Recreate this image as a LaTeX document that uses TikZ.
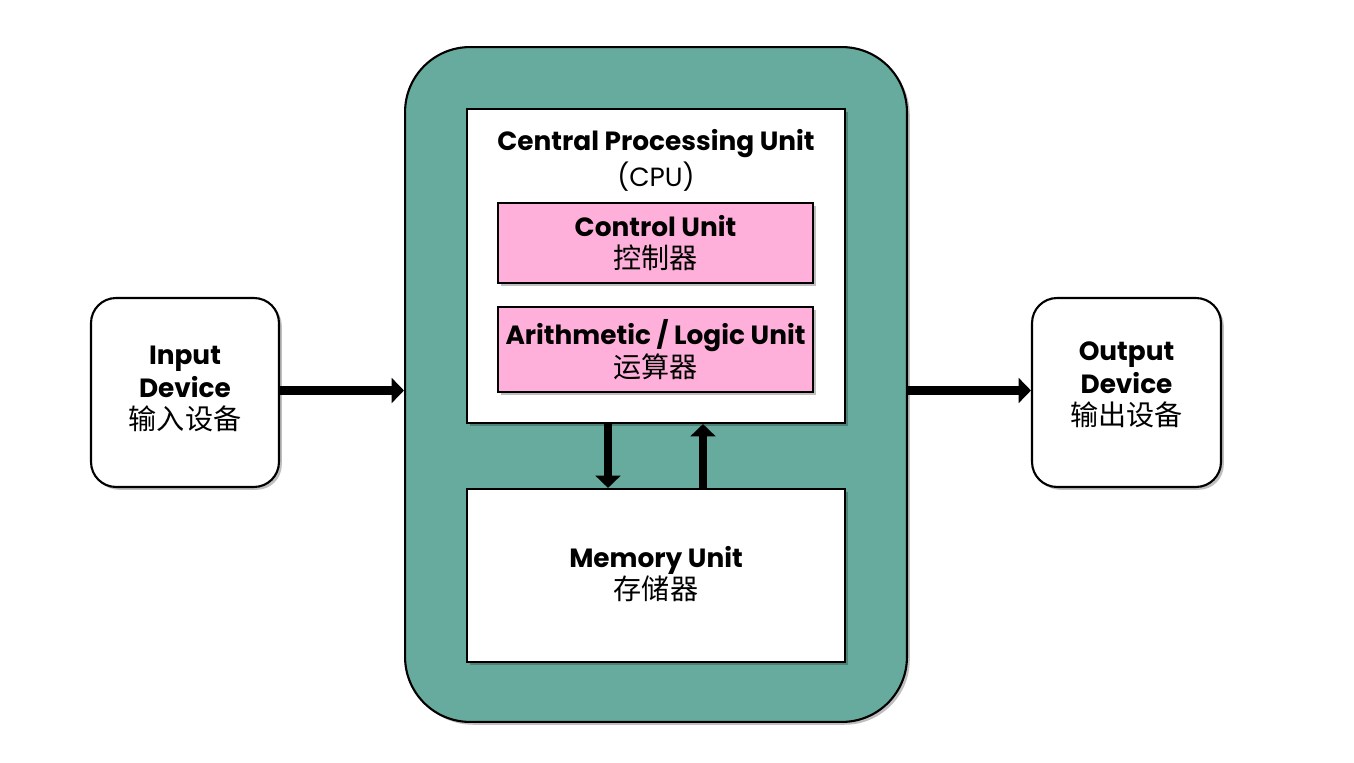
\documentclass[tikz,border=0pt]{standalone}
\usepackage{fontspec}
\setmainfont{Poppins}
\newfontfamily\cjk{Noto Sans CJK SC}
\usetikzlibrary{shadows,arrows.meta}
\definecolor{tealbg}{HTML}{67AB9F}
\definecolor{pinkbox}{HTML}{FFB0DA}
\tikzset{
  box/.style={draw=black, line width=1.2pt, inner sep=0pt,
    drop shadow={shadow xshift=1.6pt, shadow yshift=-1.6pt, fill=black, opacity=0.25}},
  lbl/.style={align=center, font=\fontsize{15}{18.5}\selectfont, inner sep=0pt},
  arr/.style={line width=4.8pt, -{Triangle[length=7pt,width=14pt]}},
}
\newcommand{\zh}[1]{{\cjk\fontsize{16}{18.5}\selectfont #1}}
\begin{document}
\begin{tikzpicture}[x=0.02cm,y=-0.02cm]
\useasboundingbox (0,0) rectangle (1354,763);
% outer teal container
\node[box, fill=tealbg, rounded corners=1.3cm, minimum width=10.04cm, minimum height=13.5cm] (big) at (656,384.5) {};
% CPU
\node[box, fill=white, minimum width=7.56cm, minimum height=6.28cm] (cpu) at (656,266) {};
\node[lbl] (cputitle) at (656,144) {\textbf{Central Processing Unit}};
\node[lbl] (cpuabbr) at (656,177) {(CPU)};
% control unit
\node[box, fill=pinkbox, minimum width=6.3cm, minimum height=1.6cm] (ctrl) at (655.5,243) {};
\node[lbl] (ctrlt) at (655.5,243) {\textbf{Control Unit}\\\zh{控制器}};
% ALU
\node[box, fill=pinkbox, minimum width=6.3cm, minimum height=1.7cm] (alu) at (655.5,349.5) {};
\node[lbl] (alut) at (655.5,349.5) {\textbf{Arithmetic / Logic Unit}\\\zh{运算器}};
% memory
\node[box, fill=white, minimum width=7.56cm, minimum height=3.46cm] (mem) at (656,575.5) {};
\node[lbl] (memt) at (656,574) {\textbf{Memory Unit}\\\zh{存储器}};
% input / output
\node[box, fill=white, rounded corners=0.5cm, minimum width=3.76cm, minimum height=3.78cm] (in) at (185,392.5) {};
\node[lbl] (int) at (185,389) {\textbf{Input}\\\textbf{Device}\\\zh{输入设备}};
\node[box, fill=white, rounded corners=0.5cm, minimum width=3.78cm, minimum height=3.78cm] (out) at (1126.5,392.5) {};
\node[lbl] (outt) at (1126.5,385) {\textbf{Output}\\\textbf{Device}\\\zh{输出设备}};
% arrows
\draw[arr] (in.east) ++(0,-2) coordinate (a1) -- (a1 -| big.west);
\draw[arr] (big.east |- out.west) ++(0,-2) coordinate (a2) -- (a2 -| out.west);
\draw[arr] ([xshift=-0.96cm]cpu.south) -- ([xshift=-0.96cm]mem.north);
\draw[arr] ([xshift=0.94cm]mem.north) -- ([xshift=0.94cm]cpu.south);
\end{tikzpicture}
\end{document}
